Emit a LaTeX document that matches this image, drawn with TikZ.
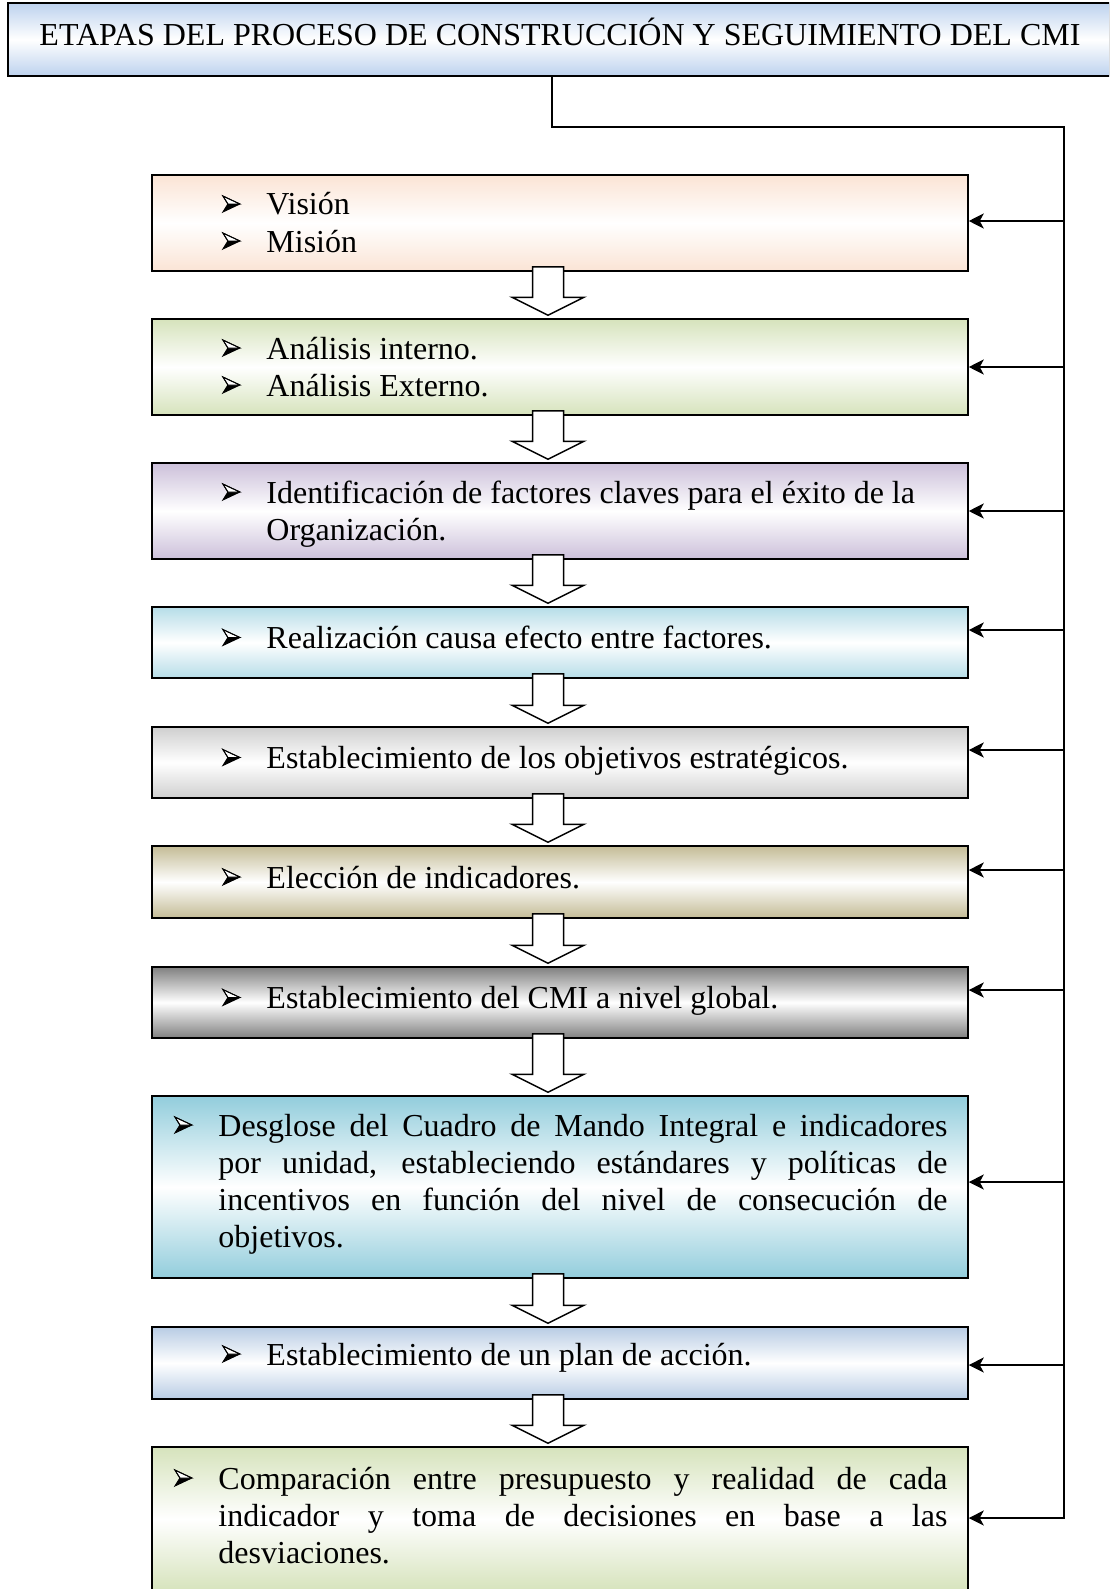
\documentclass[tikz,border=0pt]{standalone}
\usepackage{fontspec}
\setmainfont{Liberation Serif}
\usetikzlibrary{arrows.meta,calc}
\definecolor{cpeach}{HTML}{FBE4D5}
\definecolor{cgreen}{HTML}{D6E3BC}
\definecolor{cpurple}{HTML}{CCC0DA}
\definecolor{ccyan}{HTML}{B6DDE8}
\definecolor{cgray}{HTML}{CFCFCF}
\definecolor{ctan}{HTML}{C4BC96}
\definecolor{cdark}{HTML}{808080}
\definecolor{cteal}{HTML}{92CDDC}
\definecolor{csteel}{HTML}{B8CCE4}
\definecolor{ctitle}{HTML}{BDD2EE}
\newcommand\bulglyph{\tikz[x=1pt,y=1pt,baseline=0pt,line join=miter]{%
  \path (0,0) rectangle (17,19);
  \fill[black] (5,11) -- (17,11) -- (0,3) -- cycle;
  \draw[black,line width=0.9pt,fill=white] (0,19) -- (17,11) -- (5,11) -- cycle;
  \draw[black,line width=0.9pt] (0,19) -- (17,11) -- (0,3) -- (5,11) -- cycle;}}
\newcommand\itm[1]{\noindent\hangindent=44pt\hangafter=1\makebox[44pt][l]{\bulglyph}#1\par}
\newcommand\harrow[2]{%
  \draw[hollow] let \p1=(#1.south), \p2=(#2.north) in
  (\x1-27.5pt,\y1+5pt) -- (\x1-27.5pt,\y2+21pt) -- (\x1-48pt,\y2+21pt) --
  (\x1-12pt,\y2+3pt) -- (\x1+24pt,\y2+21pt) -- (\x1+3.5pt,\y2+21pt) --
  (\x1+3.5pt,\y1+5pt) -- cycle;}
\begin{document}
\begin{tikzpicture}[x=1pt,y=-1pt,
  box/.style={draw=black, line width=1.5pt, minimum width=816pt, inner sep=0pt,
    top color=#1, bottom color=#1, middle color=white},
  txt/.style={inner sep=0pt, font=\fontsize{32}{37}\selectfont, anchor=base west},
  hollow/.style={draw=black, line width=1.5pt, fill=white, line join=miter},
  conn/.style={draw=black, line width=1.6pt},
  arr/.style={conn, -{Stealth[length=15pt,width=15pt,inset=4pt]}}]
\useasboundingbox (0,0) rectangle (1109,1589);
\clip (0,0) rectangle (1109,1589);

% title
\node[draw=black, line width=1.6pt, minimum width=1102pt, minimum height=73pt, inner sep=0pt,
  top color=ctitle, bottom color=ctitle, middle color=white] (title) at (559,39.5) {};
\node[inner sep=0pt, font=\fontsize{32}{37}\selectfont, anchor=base] (tt) at ([xshift=1pt,yshift=-6.5pt]title.center)
  {ETAPAS DEL PROCESO DE CONSTRUCCIÓN Y SEGUIMIENTO DEL CMI};

% boxes
\node[box=cpeach,  minimum height=96pt]  (b1)  at (560,223) {};
\node[box=cgreen,  minimum height=96pt]  (b2)  at (560,367) {};
\node[box=cpurple, minimum height=96pt]  (b3)  at (560,511) {};
\node[box=ccyan,   minimum height=71pt]  (b4)  at (560,642.5) {};
\node[box=cgray,   minimum height=71pt]  (b5)  at (560,762.5) {};
\node[box=ctan,    minimum height=72pt]  (b6)  at (560,882) {};
\node[box=cdark,   minimum height=71pt]  (b7)  at (560,1002.5) {};
\node[box=cteal,   minimum height=182pt] (b8)  at (560,1187) {};
\node[box=csteel,  minimum height=72pt]  (b9)  at (560,1363) {};
\node[box=cgreen,  minimum height=144pt] (b10) at (560,1519) {};

% texts
\node[txt] (t1) at ([xshift=71pt,yshift=8pt]b1.west)
  {\parbox[t]{725pt}{\raggedright\itm{Visión}\itm{Misión}}};
\node[txt] (t2) at ([xshift=71pt,yshift=8pt]b2.west)
  {\parbox[t]{725pt}{\raggedright\itm{Análisis interno.}\itm{Análisis Externo.}}};
\node[txt] (t3) at ([xshift=71pt,yshift=8pt]b3.west)
  {\parbox[t]{725pt}{\raggedright\itm{Identificación de factores claves para el éxito de la Organización.}}};
\node[txt] (t4) at ([xshift=71pt,yshift=-6pt]b4.west)
  {\parbox[t]{725pt}{\raggedright\itm{Realización causa efecto entre factores.}}};
\node[txt] (t5) at ([xshift=71pt,yshift=-6pt]b5.west)
  {\parbox[t]{725pt}{\raggedright\itm{Establecimiento de los objetivos estratégicos.}}};
\node[txt] (t6) at ([xshift=71pt,yshift=-6pt]b6.west)
  {\parbox[t]{725pt}{\raggedright\itm{Elección de indicadores.}}};
\node[txt] (t7) at ([xshift=71pt,yshift=-6pt]b7.west)
  {\parbox[t]{725pt}{\raggedright\itm{Establecimiento del CMI a nivel global.}}};
\node[txt] (t8) at ([xshift=23pt,yshift=51pt]b8.west)
  {\parbox[t]{773pt}{\hyphenpenalty=10000\tolerance=10000\itm{Desglose del Cuadro de Mando Integral e indicadores\linebreak por unidad, estableciendo estándares y políticas de\linebreak incentivos en función del nivel de consecución de\linebreak objetivos.}}};
\node[txt] (t9) at ([xshift=71pt,yshift=-2pt]b9.west)
  {\parbox[t]{725pt}{\raggedright\itm{Establecimiento de un plan de acción.}}};
\node[txt] (t10) at ([xshift=23pt,yshift=30pt]b10.west)
  {\parbox[t]{773pt}{\hyphenpenalty=10000\tolerance=10000\itm{Comparación entre presupuesto y realidad de cada\linebreak indicador y toma de decisiones en base a las\linebreak desviaciones.}}};

% hollow arrows
\harrow{b1}{b2}
\harrow{b2}{b3}
\harrow{b3}{b4}
\harrow{b4}{b5}
\harrow{b5}{b6}
\harrow{b6}{b7}
\harrow{b7}{b8}
\harrow{b8}{b9}
\harrow{b9}{b10}

% feedback connector
\coordinate (c0) at (1064,127);
\coordinate (r1) at (1064,221);
\coordinate (r2) at (1064,367);
\coordinate (r3) at (1064,511);
\coordinate (r4) at (1064,630);
\coordinate (r5) at (1064,750);
\coordinate (r6) at (1064,870);
\coordinate (r7) at (1064,990);
\coordinate (r8) at (1064,1182);
\coordinate (r9) at (1064,1365);
\coordinate (r10) at (1064,1518);
\draw[arr] ([xshift=-7pt]title.south) |- (c0) -- (r10) -- (r10 -| b10.east);
\foreach \r/\b in {r1/b1,r2/b2,r3/b3,r4/b4,r5/b5,r6/b6,r7/b7,r8/b8,r9/b9}
  \draw[arr] (\r) -- (\r -| \b.east);
\end{tikzpicture}
\end{document}
